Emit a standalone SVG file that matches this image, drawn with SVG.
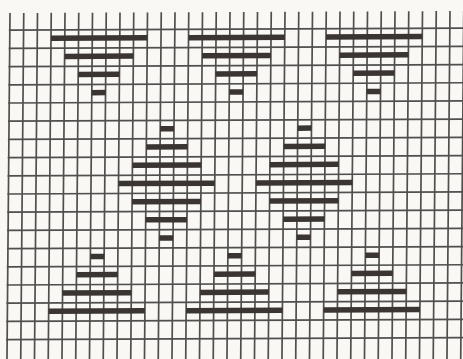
<svg xmlns="http://www.w3.org/2000/svg" width="463" height="359" viewBox="0 0 463 359">
  <style>
    .grid { fill: none; stroke: #4f4f4f; stroke-width: 1.7; }
    .bar { fill: #3a3532; }
  </style>
  <defs>
    <g id="triDown">
      <rect class="bar" x="0" y="0" width="96.25" height="5.5"/>
      <rect class="bar" x="13.75" y="18.2" width="68.75" height="5.5"/>
      <rect class="bar" x="27.5" y="36.4" width="41.25" height="5.5"/>
      <rect class="bar" x="41.25" y="54.6" width="13.75" height="5.5"/>
    </g>
    <g id="triUp">
      <rect class="bar" x="41.25" y="0" width="13.75" height="5.5"/>
      <rect class="bar" x="27.5" y="18.2" width="41.25" height="5.5"/>
      <rect class="bar" x="13.75" y="36.4" width="68.75" height="5.5"/>
      <rect class="bar" x="0" y="54.6" width="96.25" height="5.5"/>
    </g>
    <g id="diamond">
      <rect class="bar" x="41.25" y="0" width="13.75" height="5.5"/>
      <rect class="bar" x="27.5" y="18.2" width="41.25" height="5.5"/>
      <rect class="bar" x="13.75" y="36.4" width="68.75" height="5.5"/>
      <rect class="bar" x="0" y="54.6" width="96.25" height="5.5"/>
      <rect class="bar" x="13.75" y="72.8" width="68.75" height="5.5"/>
      <rect class="bar" x="27.5" y="91" width="41.25" height="5.5"/>
      <rect class="bar" x="41.25" y="109.2" width="13.75" height="5.5"/>
    </g>
  </defs>
  <rect x="0" y="0" width="463" height="359" fill="#faf8f5"/>
  <g transform="matrix(1,-0.0045,-0.0087,1,0.11,0.05)">
    <g id="grid">
      <path class="grid" d="M10 13V364M23.75 13V364M37.5 13V364M51.25 13V364M65 13V364M78.75 13V364M92.5 13V364M106.25 13V364M120 13V364M133.75 13V364M147.5 13V364M161.25 13V364M175 13V364M188.75 13V364M202.5 13V364M216.25 13V364M230 13V364M243.75 13V364M257.5 13V364M271.25 13V364M285 13V364M298.75 13V364M312.5 13V364M326.25 13V364M340 13V364M353.75 13V364M367.5 13V364M381.25 13V364M395 13V364M408.75 13V364M422.5 13V364M436.25 13V364M450 13V364M463.75 13V364"/>
      <path class="grid" d="M9 30.2H472M9 48.4H472M9 66.6H472M9 84.8H472M9 103H472M9 121.2H472M9 139.4H472M9 157.6H472M9 175.8H472M9 194H472M9 212.2H472M9 230.4H472M9 248.6H472M9 266.8H472M9 285H472M9 303.2H472M9 321.4H472M9 339.6H472"/>
    </g>
    <g id="top-left"><use href="#triDown" x="51.25" y="35.7"/></g>
    <g id="top-middle"><use href="#triDown" x="188.75" y="35.7"/></g>
    <g id="top-right"><use href="#triDown" x="326.25" y="35.7"/></g>
    <g id="diamond-left"><use href="#diamond" x="120" y="126.7"/></g>
    <g id="diamond-right"><use href="#diamond" x="257.5" y="126.7"/></g>
    <g id="bottom-left"><use href="#triUp" x="51.25" y="254.1"/></g>
    <g id="bottom-middle"><use href="#triUp" x="188.75" y="254.1"/></g>
    <g id="bottom-right"><use href="#triUp" x="326.25" y="254.1"/></g>
  </g>
</svg>
